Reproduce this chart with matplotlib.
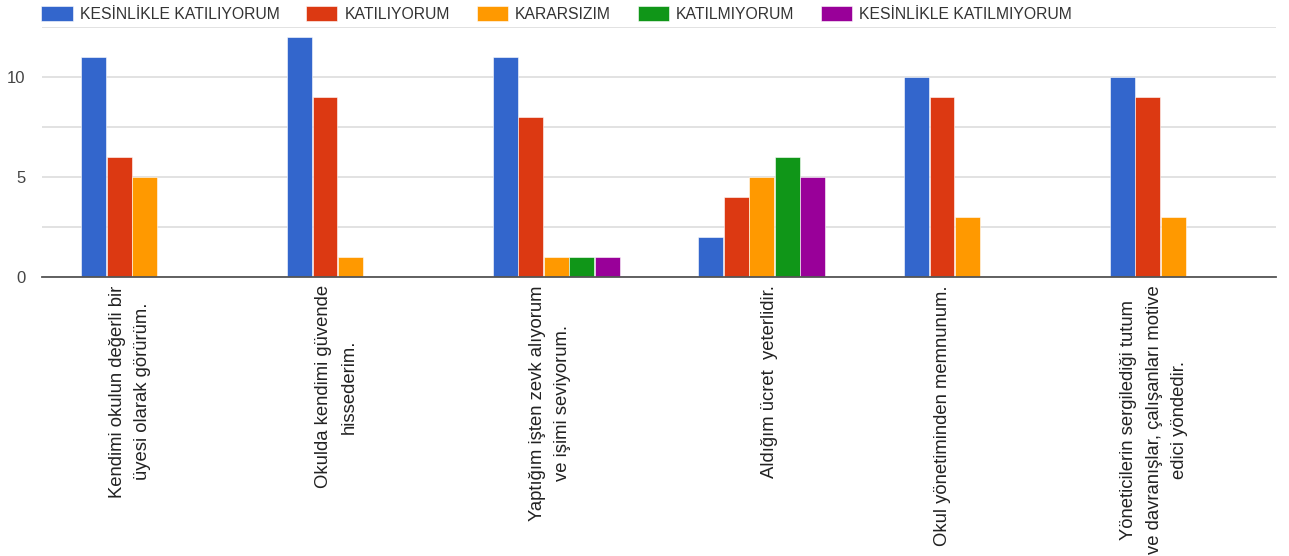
import numpy as np
import matplotlib
matplotlib.use('Agg')
import matplotlib.pyplot as plt
import matplotlib.transforms as mtransforms

plt.rcParams['font.family'] = ['Liberation Sans', 'DejaVu Sans']

categories = ['Kendimi okulun değerli bir\nüyesi olarak görürüm.',
              'Okulda kendimi güvende\nhissederim.',
              'Yaptığım işten zevk alıyorum\nve işimi seviyorum.',
              'Aldığım ücret  yeterlidir.',
              'Okul yönetiminden memnunum.',
              'Yöneticilerin sergilediği tutum\nve davranışlar, çalışanları motive\nedici yöndedir.']
series = ['KESİNLİKLE KATILIYORUM', 'KATILIYORUM', 'KARARSIZIM',
          'KATILMIYORUM', 'KESİNLİKLE KATILMIYORUM']
kesinlikle_katiliyorum = [11, 12, 11, 2, 10, 10]
katiliyorum = [6, 9, 8, 4, 9, 9]
kararsizim = [5, 1, 1, 5, 3, 3]
katilmiyorum = [0, 0, 1, 6, 0, 0]
kesinlikle_katilmiyorum = [0, 0, 1, 5, 0, 0]
values = [kesinlikle_katiliyorum, katiliyorum, kararsizim,
          katilmiyorum, kesinlikle_katilmiyorum]
colors = ['#3366CC', '#DC3912', '#FF9900', '#109618', '#990099']

# how far each rotated label sits off its group centre (px)
label_shift = [-15, -14, -6, 8, -25, -19]

fig = plt.figure(figsize=(12.89, 5.56), dpi=100)
ax = fig.add_axes([42 / 1289, 1 - 277 / 556, 1234 / 1289, 250 / 556])

x = np.arange(len(categories))
w = 0.124
for i, (name, vals, c) in enumerate(zip(series, values, colors)):
    ax.bar(x + (i - 2) * w, vals, w * 0.97, color=c, label=name,
           edgecolor='white', linewidth=0.4, zorder=3)

ax.set_xlim(-0.5, len(categories) - 0.5)
ax.set_ylim(0, 12.5)
ax.set_yticks([0, 2.5, 5, 7.5, 10, 12.5])
ax.set_yticklabels(['0', '', '5', '', '10', ''])
ax.grid(axis='y', color='#dddddd', linewidth=1.2, zorder=0)
for s in ['top', 'right', 'left']:
    ax.spines[s].set_visible(False)
ax.spines['bottom'].set_color('#555555')
ax.spines['bottom'].set_linewidth(1.3)
ax.spines['bottom'].set_zorder(4)
ax.tick_params(axis='y', length=0, pad=12, labelsize=12, labelcolor='#444444')
ax.tick_params(axis='x', length=0, pad=6)
ax.set_xticks(x)
ax.set_xticklabels(categories, rotation=90, fontsize=13.3, color='#222222',
                   linespacing=1.65, multialignment='center', va='top')
for lab, dx in zip(ax.get_xticklabels(), label_shift):
    lab.set_transform(lab.get_transform() +
                      mtransforms.ScaledTranslation(dx / 100, 0, fig.dpi_scale_trans))

fig.legend(loc='upper left', bbox_to_anchor=(27 / 1289, 1.015), ncol=5,
           frameon=False, fontsize=11.3, handlelength=2.0, handleheight=1.08,
           columnspacing=1.7, handletextpad=0.45, labelcolor='#333333')

plt.savefig('out.png', dpi=100)
